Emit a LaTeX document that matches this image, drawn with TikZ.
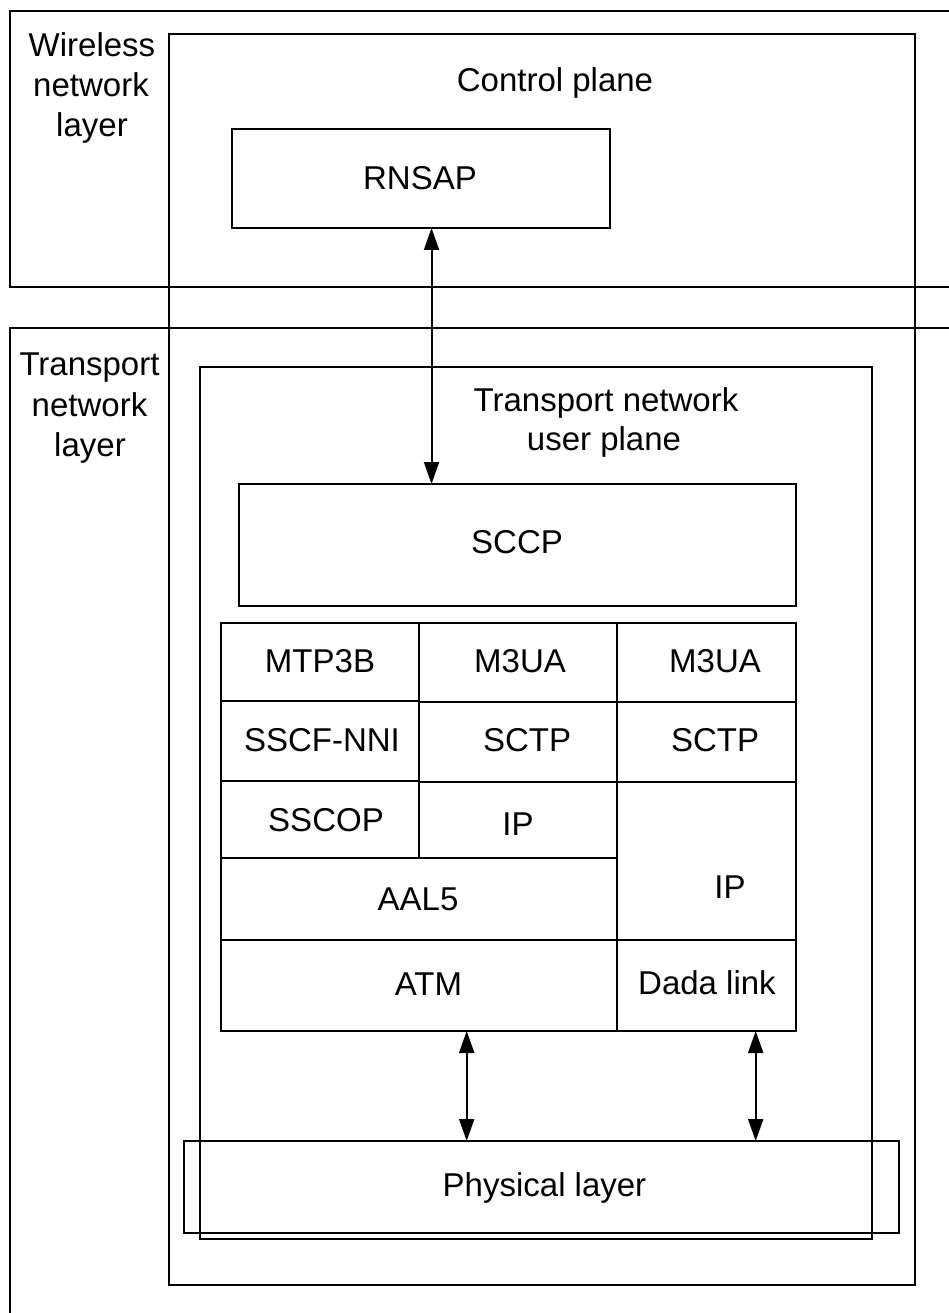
\documentclass[tikz,border=0pt]{standalone}
\usepackage{fontspec}
\setmainfont{Liberation Sans}
\usetikzlibrary{arrows.meta}
\newcommand{\blk}[5]{\node[blkbox, minimum width={(#4-#2)*1pt}, minimum height={(#5-#3)*1pt}] (#1) at ({(#2+#4)/2},{(#3+#5)/2}) {};}
\begin{document}
\begin{tikzpicture}[x=1pt,y=-1pt,
  line width=2pt,
  blkbox/.style={draw=black, line width=2pt, inner sep=0pt, outer sep=0pt, rectangle},
  lbl/.style={inner sep=0pt, outer sep=0pt, text height=23.6pt, text depth=0pt, font=\fontsize{33}{40}\selectfont},
  bl/.style={inner sep=0pt, outer sep=0pt, anchor=base, font=\fontsize{33}{40}\selectfont},
  dbl/.style={{Triangle[width=15pt,length=22pt]}-{Triangle[width=15pt,length=22pt]}, line width=2pt}
]
\useasboundingbox (0,0) rectangle (949,1313);
\fill[white] (0,0) rectangle (949,1313);

% open outer layer frames
\draw (949,11) -- (10,11) -- (10,287) -- (949,287);
\draw (949,328) -- (10,328) -- (10,1313);

% layer labels
\node[bl] (wl1) at (92,57) {Wireless};
\node[bl] (wl2) at (91,97) {network};
\node[bl] (wl3) at (92,137) {layer};
\node[bl] (tl1) at (89.5,375) {Transport};
\node[bl] (tl2) at (89.5,416) {network};
\node[bl] (tl3) at (90,456) {layer};

% control plane box
\blk{cp}{169}{34}{915}{1285}
\node[bl] (cplbl) at (555,92) {Control plane};

% RNSAP
\blk{rnsap}{232}{129}{610}{228}
\node[lbl] (trnsap) at (420,178) {RNSAP};

% user plane box
\blk{up}{200}{367}{872}{1239}
\node[bl] (uplbl1) at (606,411) {Transport network};
\node[bl] (uplbl2) at (604,450) {user plane};

% SCCP
\blk{sccp}{239}{484}{796}{606}
\node[lbl] (tsccp) at (517,542) {SCCP};

% stack cells
\blk{mtp}{221}{623}{419}{701}
\blk{muam}{419}{623}{617}{702}
\blk{muar}{617}{623}{796}{702}
\blk{sscf}{221}{701}{419}{781}
\blk{sctpm}{419}{702}{617}{782}
\blk{sctpr}{617}{702}{796}{782}
\blk{sscop}{221}{781}{419}{858}
\blk{ipm}{419}{782}{617}{858}
\blk{aal}{221}{858}{617}{940}
\blk{ipr}{617}{782}{796}{940}
\blk{atm}{221}{940}{617}{1031}
\blk{dl}{617}{940}{796}{1031}

\node[lbl] (tmtp) at (320,660.5) {MTP3B};
\node[lbl] (tmuam) at (520,660.5) {M3UA};
\node[lbl] (tmuar) at (715,660.5) {M3UA};
\node[lbl] (tsscf) at (322,740) {SSCF-NNI};
\node[lbl] (tsctpm) at (527,740) {SCTP};
\node[lbl] (tsctpr) at (715,740) {SCTP};
\node[lbl] (tsscop) at (326,820) {SSCOP};
\node[lbl] (tipm) at (518,824) {IP};
\node[lbl] (taal) at (418,899) {AAL5};
\node[lbl] (tipr) at (730,887) {IP};
\node[lbl] (tatm) at (428.5,984) {ATM};
\node[lbl] (tdl) at (707,983) {Dada link};

% physical layer
\blk{phy}{184}{1141}{899}{1233}
\node[lbl] (tphy) at (544.5,1185) {Physical layer};

% connectors
\coordinate (xa) at (431.5,0);
\coordinate (xb) at (466.7,0);
\coordinate (xc) at (755.7,0);
\draw[dbl] (rnsap.south -| xa) -- (sccp.north -| xa);
\draw[dbl] (atm.south -| xb) -- (phy.north -| xb);
\draw[dbl] (dl.south -| xc) -- (phy.north -| xc);
\end{tikzpicture}
\end{document}
